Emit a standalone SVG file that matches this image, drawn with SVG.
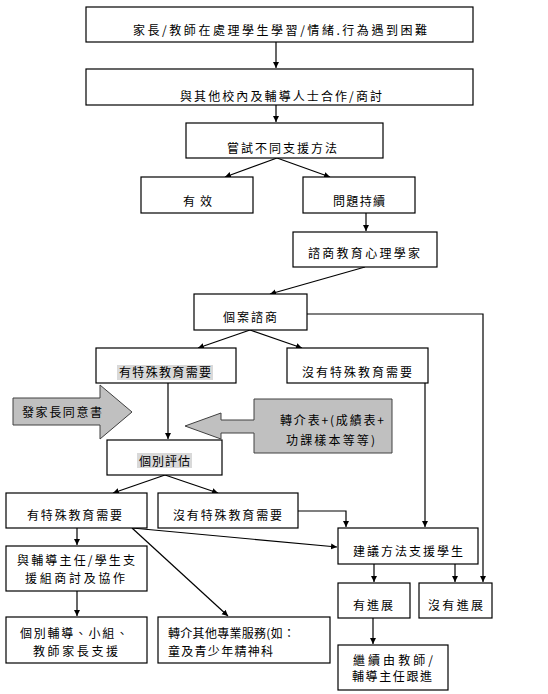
<svg xmlns="http://www.w3.org/2000/svg" width="548" height="694" viewBox="0 0 548 694">
<style>
.box{fill:#fff;stroke:#000;stroke-width:1.2}
.t{font-family:"Noto Sans CJK TC","Noto Sans CJK SC",sans-serif;font-size:12px;fill:#000}
.c{fill:none;stroke:#000;stroke-width:1.2}
.blk{fill:#c0c0c0;stroke:#404040;stroke-width:1}
.hl{fill:#d9d9d9}
</style>
<defs>
<marker id="ah" markerWidth="7" markerHeight="7" refX="6" refY="3.5" orient="auto" markerUnits="userSpaceOnUse">
<path d="M0,0.5 L6,3.5 L0,6.5 z" fill="#000"/>
</marker>
</defs>
<rect width="548" height="694" fill="#fff"/>
<g id="connectors">
<path class="c" d="M276,42 V68" marker-end="url(#ah)"/>
<path class="c" d="M276,105 V122" marker-end="url(#ah)"/>
<path class="c" d="M277,158 L225,177" marker-end="url(#ah)"/>
<path class="c" d="M277,158 L330,177" marker-end="url(#ah)"/>
<path class="c" d="M366,213 V231" marker-end="url(#ah)"/>
<path class="c" d="M365,267 L270,294" marker-end="url(#ah)"/>
<path class="c" d="M250,330 L198,348" marker-end="url(#ah)"/>
<path class="c" d="M250,330 L302,348" marker-end="url(#ah)"/>
<path class="c" d="M307,314 H483 V582" marker-end="url(#ah)"/>
<path class="c" d="M168,383 V439" marker-end="url(#ah)"/>
<path class="c" d="M425,383 V527" marker-end="url(#ah)"/>
<path class="c" d="M165,475 L113,493" marker-end="url(#ah)"/>
<path class="c" d="M165,475 L218,493" marker-end="url(#ah)"/>
<path class="c" d="M298,511 H346 V527" marker-end="url(#ah)"/>
<path class="c" d="M132,528 L337,547" marker-end="url(#ah)"/>
<path class="c" d="M132,528 L228,616" marker-end="url(#ah)"/>
<path class="c" d="M77,528 V545" marker-end="url(#ah)"/>
<path class="c" d="M77,591 V616" marker-end="url(#ah)"/>
<path class="c" d="M374,564 V582" marker-end="url(#ah)"/>
<path class="c" d="M455,564 V582" marker-end="url(#ah)"/>
<path class="c" d="M373,618 V644" marker-end="url(#ah)"/>
</g>
<g id="n1"><rect class="box" x="86" y="7" width="387" height="35"/><text class="t" x="133" y="34.5" textLength="294" lengthAdjust="spacing">家長/教師在處理學生學習/情緒.行為遇到困難</text></g>
<g id="n2"><rect class="box" x="86" y="69" width="387" height="36"/><text class="t" x="180" y="100.5" textLength="202" lengthAdjust="spacing">與其他校內及輔導人士合作/商討</text></g>
<g id="n3"><rect class="box" x="186" y="123" width="197" height="35"/><text class="t" x="227" y="152.5" textLength="110" lengthAdjust="spacing">嘗試不同支援方法</text></g>
<g id="n4"><rect class="box" x="141" y="177" width="112" height="36"/><text class="t" x="183" y="205.5" textLength="29" lengthAdjust="spacing">有效</text></g>
<g id="n5"><rect class="box" x="303" y="177" width="112" height="36"/><text class="t" x="333" y="205.5" textLength="52" lengthAdjust="spacing">問題持續</text></g>
<g id="n6"><rect class="box" x="293" y="232" width="144" height="35"/><text class="t" x="308" y="257.5" textLength="112" lengthAdjust="spacing">諮商教育心理學家</text></g>
<g id="n7"><rect class="box" x="194" y="294" width="113" height="36"/><text class="t" x="223" y="321.5" textLength="54" lengthAdjust="spacing">個案諮商</text></g>
<g id="n8"><rect class="box" x="96" y="348" width="140" height="35"/><rect class="hl" x="117" y="365" width="96" height="15"/><text class="t" x="119" y="376.5" textLength="92" lengthAdjust="spacing">有特殊教育需要</text></g>
<g id="n9"><rect class="box" x="287" y="348" width="141" height="35"/><text class="t" x="302" y="376.5" textLength="110" lengthAdjust="spacing">沒有特殊教育需要</text></g>
<g id="n10"><rect class="box" x="107" y="440" width="115" height="35"/><rect class="hl" x="137" y="453" width="55" height="15"/><text class="t" x="139" y="465.5" textLength="51" lengthAdjust="spacing">個別評估</text></g>
<g id="n11"><polygon class="blk" points="13,398 100,398 100,385 132,412 100,439 100,425 13,425"/><text class="t" x="22" y="416.5" textLength="80" lengthAdjust="spacing">發家長同意書</text></g>
<g id="n12"><polygon class="blk" points="392,399 392,453 254,453 254,433 221,433 221,439 185,426 221,413 221,420 254,420 254,399"/><text class="t" x="280" y="424.5" textLength="104" lengthAdjust="spacing">轉介表+(成績表+</text><text class="t" x="286" y="444.5" textLength="89" lengthAdjust="spacing">功課樣本等等)</text></g>
<g id="n13"><rect class="box" x="6" y="493" width="141" height="35"/><text class="t" x="27" y="519.5" textLength="95" lengthAdjust="spacing">有特殊教育需要</text></g>
<g id="n14"><rect class="box" x="158" y="493" width="140" height="35"/><text class="t" x="173" y="519.5" textLength="109" lengthAdjust="spacing">沒有特殊教育需要</text></g>
<g id="n15"><rect class="box" x="338" y="528" width="140" height="36"/><text class="t" x="353" y="555.5" textLength="110" lengthAdjust="spacing">建議方法支援學生</text></g>
<g id="n16"><rect class="box" x="6" y="546" width="141" height="45"/><text class="t" x="17" y="564.5" textLength="118" lengthAdjust="spacing">與輔導主任/學生支</text><text class="t" x="25" y="582.5" textLength="100" lengthAdjust="spacing">援組商討及協作</text></g>
<g id="n17"><rect class="box" x="6" y="617" width="141" height="46"/><text class="t" x="20" y="637.5" textLength="108" lengthAdjust="spacing">個別輔導、小組、</text><text class="t" x="33" y="655.5" textLength="85" lengthAdjust="spacing">教師家長支援</text></g>
<g id="n18"><rect class="box" x="158" y="617" width="172" height="46"/><text class="t" x="168" y="637.5" textLength="127" lengthAdjust="spacing">轉介其他專業服務(如：</text><text class="t" x="168" y="655.5" textLength="105" lengthAdjust="spacing">童及青少年精神科</text></g>
<g id="n19"><rect class="box" x="338" y="583" width="72" height="35"/><text class="t" x="353" y="609.5" textLength="40" lengthAdjust="spacing">有進展</text></g>
<g id="n20"><rect class="box" x="419" y="583" width="73" height="35"/><text class="t" x="428" y="609.5" textLength="55" lengthAdjust="spacing">沒有進展</text></g>
<g id="n21"><rect class="box" x="338" y="645" width="110" height="45"/><text class="t" x="353" y="664.5" textLength="80" lengthAdjust="spacing">繼續由教師/</text><text class="t" x="352" y="680.5" textLength="80" lengthAdjust="spacing">輔導主任跟進</text></g>
</svg>
